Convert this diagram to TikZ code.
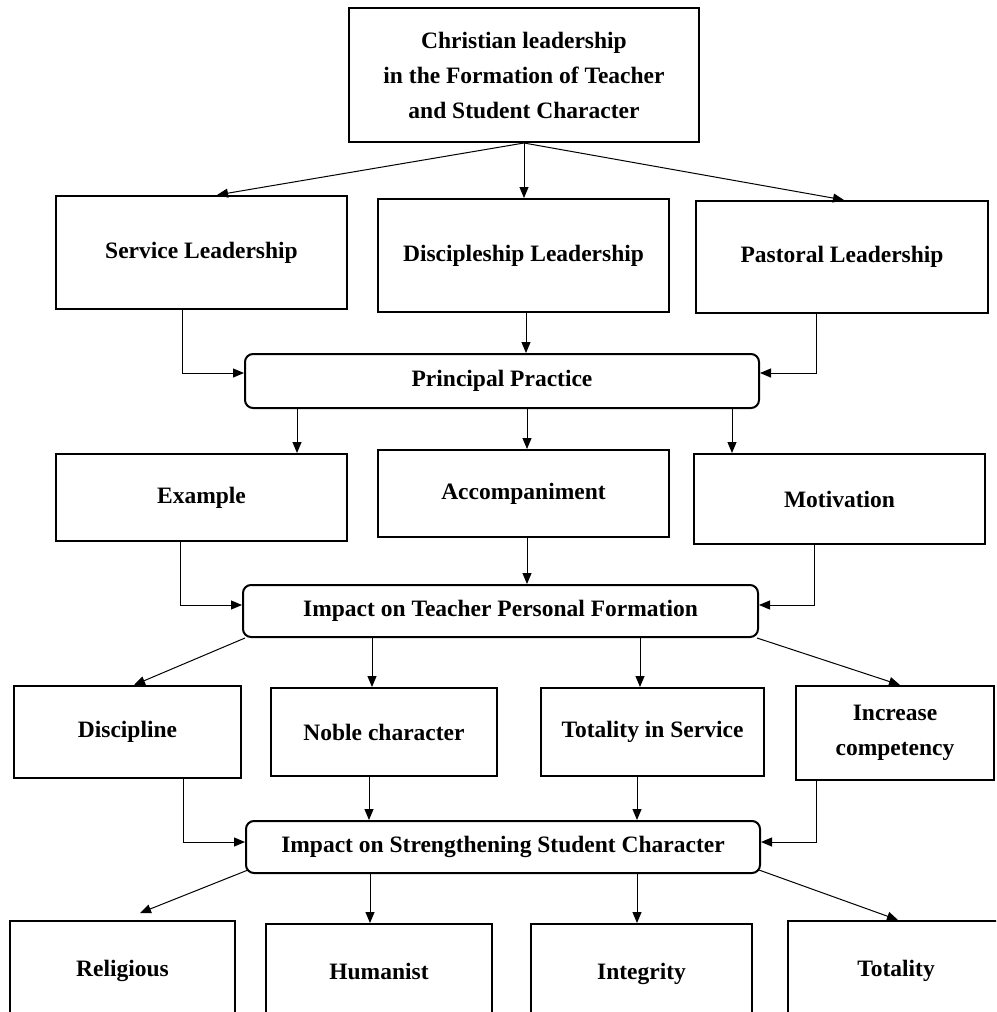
\documentclass[tikz,border=0pt]{standalone}
\usepackage{fontspec}
\setmainfont{Liberation Serif}
\usetikzlibrary{arrows.meta}
\begin{document}
\begin{tikzpicture}[x=1pt,y=-1pt,
  box/.style={draw, line width=2pt, inner sep=0pt, align=center,
    font=\bfseries\fontsize{23.5}{35}\selectfont},
  rbox/.style={box, rounded corners=8pt},
  arr/.style={line width=1pt, -{Triangle[length=11pt,width=9pt]}}]
\useasboundingbox (0,0) rectangle (996,1012);
\clip (0,0) rectangle (996,1012);
% top
\node[box, minimum width=350pt, minimum height=134pt] (top) at (524,75)
  {Christian leadership\\in the Formation of Teacher\\and Student Character};
% row 1
\node[box, minimum width=291pt, minimum height=113pt] (svc) at (201.5,252.5) {Service Leadership};
\node[box, minimum width=291pt, minimum height=113pt] (dis) at (523.5,255.5) {Discipleship Leadership};
\node[box, minimum width=292pt, minimum height=112pt] (pas) at (842,257) {Pastoral Leadership};
% principal practice
\node[rbox, minimum width=514pt, minimum height=54pt] (pp) at (502,381) {Principal Practice};
% row 2
\node[box, minimum width=291pt, minimum height=87pt] (ex) at (201.5,497.5) {\raisebox{-3pt}{Example}};
\node[box, minimum width=291pt, minimum height=87pt] (acc) at (523.5,493.5) {\raisebox{-2pt}{Accompaniment}};
\node[box, minimum width=291pt, minimum height=90pt] (mot) at (839.5,499) {\raisebox{-2pt}{Motivation}};
% impact teacher
\node[rbox, minimum width=515pt, minimum height=52pt] (it) at (500.5,611) {Impact on Teacher Personal Formation};
% row 3
\node[box, minimum width=227pt, minimum height=92pt] (disc) at (127.5,732) {Discipline};
\node[box, minimum width=226pt, minimum height=88pt] (nob) at (384,732) {Noble character};
\node[box, minimum width=223pt, minimum height=88pt] (tot) at (652.5,732) {Totality in Service};
\node[box, minimum width=198pt, minimum height=94pt] (inc) at (895,733) {Increase\\competency};
% impact student
\node[rbox, minimum width=514pt, minimum height=52pt] (is) at (503,847) {Impact on Strengthening Student Character};
% row 4 (cut off by the lower edge)
\node[box, minimum width=225pt, minimum height=100pt] (rel) at (122.5,971) {\raisebox{6pt}{Religious}};
\node[box, minimum width=226pt, minimum height=100pt] (hum) at (379,974) {\raisebox{6pt}{Humanist}};
\node[box, minimum width=221pt, minimum height=100pt] (int) at (641.5,974) {\raisebox{6pt}{Integrity}};
\node[box, minimum width=216pt, minimum height=100pt] (tty) at (896,971) {\raisebox{6pt}{Totality}};
% arrows top -> row 1
\draw[arr] (top.south) -- ([xshift=15.5pt]svc.north);
\draw[arr] (top.south) -- (top.south |- dis.north);
\draw[arr] (top.south) -- ([xshift=2pt]pas.north);
% row 1 -> pp
\draw[arr] ([xshift=-19.5pt]svc.south) |- ([yshift=8pt]pp.west);
\draw[arr] ([xshift=2.5pt]dis.south) -- ([xshift=2.5pt]dis.south |- pp.north);
\draw[arr] ([xshift=-26pt]pas.south) |- ([yshift=8pt]pp.east);
% pp -> row 2
\draw[arr] ([xshift=-205pt]pp.south) -- ([xshift=-205pt]pp.south |- ex.north);
\draw[arr] ([xshift=25pt]pp.south) -- ([xshift=25pt]pp.south |- acc.north);
\draw[arr] ([xshift=230pt]pp.south) -- ([xshift=230pt]pp.south |- mot.north);
% row 2 -> it
\draw[arr] ([xshift=-21.5pt]ex.south) |- ([yshift=6pt]it.west);
\draw[arr] ([xshift=3.5pt]acc.south) -- ([xshift=3.5pt]acc.south |- it.north);
\draw[arr] ([xshift=-25.5pt]mot.south) |- ([yshift=6pt]it.east);
% it -> row 3
\draw[arr] ([xshift=3pt]it.south west) -- ([xshift=6.5pt]disc.north);
\draw[arr] ([xshift=-128.5pt]it.south) -- ([xshift=-128.5pt]it.south |- nob.north);
\draw[arr] ([xshift=139.5pt]it.south) -- ([xshift=139.5pt]it.south |- tot.north);
\draw[arr] ([xshift=-2pt]it.south east) -- ([xshift=5pt]inc.north);
% row 3 -> is
\draw[arr] ([xshift=55.5pt]disc.south) |- ([yshift=5pt]is.west);
\draw[arr] ([xshift=-15pt]nob.south) -- ([xshift=-15pt]nob.south |- is.north);
\draw[arr] ([xshift=-15.5pt]tot.south) -- ([xshift=-15.5pt]tot.south |- is.north);
\draw[arr] ([xshift=-79pt]inc.south) |- ([yshift=5pt]is.east);
% is -> row 4
\draw[arr] ([xshift=3pt,yshift=4pt]is.south west) -- ([xshift=17.5pt,yshift=7pt]rel.north);
\draw[arr] ([xshift=-133pt]is.south) -- ([xshift=-133pt]is.south |- hum.north);
\draw[arr] ([xshift=134pt]is.south) -- ([xshift=134pt]is.south |- int.north);
\draw[arr] ([xshift=-2pt,yshift=4pt]is.south east) -- ([xshift=2pt]tty.north);
\end{tikzpicture}
\end{document}
